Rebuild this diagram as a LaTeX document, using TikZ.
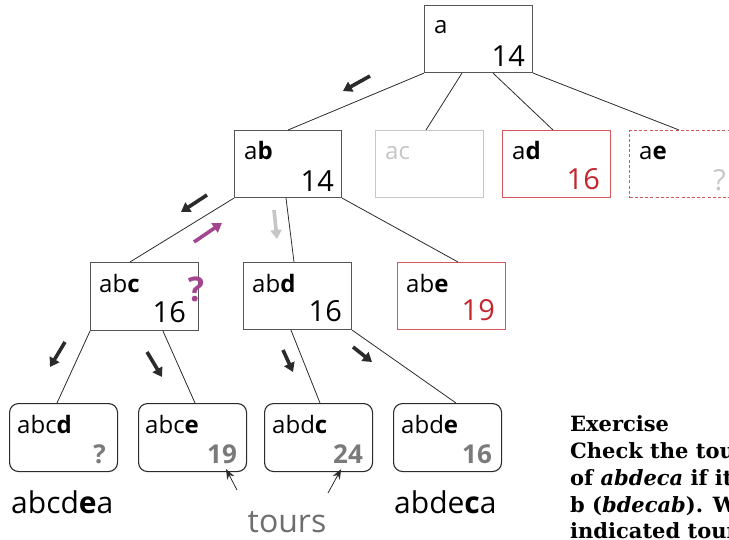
\documentclass[tikz,border=0pt]{standalone}
\usepackage{fontspec}
\setmainfont{Open Sans}
\newfontfamily\exfont{DejaVu Serif}
\usetikzlibrary{arrows.meta}

\definecolor{boxgrey}{HTML}{555555}
\definecolor{edgeink}{HTML}{2B2B2B}
\definecolor{deadgrey}{HTML}{C6C6C6}
\definecolor{cutred}{HTML}{C4262E}
\definecolor{cutredline}{HTML}{D4575C}
\definecolor{leafnum}{HTML}{7A7A7A}
\definecolor{toursgrey}{HTML}{6E6E6E}
\definecolor{backtrack}{HTML}{A3458F}

\tikzset{
  box/.style={draw=boxgrey, line width=1.1pt, minimum width=108pt, minimum height=67pt,
              inner sep=0pt, anchor=north west},
  leaf/.style={draw=edgeink, line width=1.1pt, rounded corners=9pt, minimum width=108pt,
               minimum height=68pt, inner sep=0pt, anchor=north west},
  edge/.style={draw=edgeink, line width=0.8pt},
  lbl/.style={anchor=base west, inner sep=0pt, font=\fontsize{24}{28}\selectfont},
  num/.style={anchor=base east, inner sep=0pt, font=\fontsize{29}{32}\selectfont},
  leafnumber/.style={anchor=base east, inner sep=0pt, text=leafnum,
                     font=\fontsize{26}{30}\selectfont\bfseries},
  tourword/.style={anchor=base west, inner sep=0pt, font=\fontsize{30}{34}\selectfont},
  walk/.style={line width=3.6pt, -{Triangle[width=11pt,length=9pt]}},
  pointer/.style={line width=0.8pt, draw=edgeink, -{Stealth[width=8pt,length=10pt]}},
  exline/.style={anchor=base west, inner sep=0pt, font=\exfont\bfseries\fontsize{21}{26}\selectfont},
}

\begin{document}
\begin{tikzpicture}[x=1pt,y=-1pt]
\useasboundingbox (0,0) rectangle (729,540);
\clip (0,0) rectangle (729,540);

% search-tree nodes, level 0 and 1
\node[box] (a)  at (424,5)   {};
\node[box, minimum width=107pt] (ab) at (234,130) {};
\node[box, draw=deadgrey] (ac) at (375,130) {};
\node[box, draw=cutredline] (ad) at (502,130) {};
\node[box, draw=cutredline, dash pattern=on 3pt off 2.2pt] (ae) at (629,130) {};

% level 2
\node[box, minimum height=68pt] (abc) at (90,262)  {};
\node[box] (abd) at (243,262) {};
\node[box, draw=cutredline] (abe) at (397,262) {};

% complete tours
\node[leaf] (abcd) at (9,403)   {};
\node[leaf] (abce) at (138,403) {};
\node[leaf] (abdc) at (264,403) {};
\node[leaf] (abde) at (393,403) {};

% tree edges
\draw[edge] (a.south west) -- (ab.north);
\draw[edge] ([xshift=38pt]a.south west) -- ([xshift=51pt]ac.north west);
\draw[edge] ([xshift=69pt]a.south west) -- ([xshift=51pt]ad.north west);
\draw[edge] (a.south east) -- ([xshift=50pt]ae.north west);
\draw[edge] (ab.south west) -- ([xshift=40pt]abc.north west);
\draw[edge] ([xshift=52pt]ab.south west) -- ([xshift=51pt]abd.north west);
\draw[edge] (ab.south east) -- ([xshift=61pt]abe.north west);
\draw[edge] (abc.south west) -- ([xshift=48pt]abcd.north west);
\draw[edge] ([xshift=73pt]abc.south west) -- ([xshift=57pt]abce.north west);
\draw[edge] ([xshift=48pt]abd.south west) -- ([xshift=56pt]abdc.north west);
\draw[edge] (abd.south east) -- ([xshift=63pt]abde.north west);

% partial tours and their bounds
\node[lbl] (a-l)  at ([shift={(10,29)}]a.north west)  {a};
\node[num] (a-n)  at ([shift={(-8,-7)}]a.south east)  {14};
\node[lbl] (ab-l) at ([shift={(10,30)}]ab.north west) {a\textbf{b}};
\node[num] (ab-n) at ([shift={(-8,-7)}]ab.south east) {14};
\node[lbl, text=deadgrey] (ac-l) at ([shift={(10,30)}]ac.north west) {ac};
\node[lbl] (ad-l) at ([shift={(10,30)}]ad.north west) {a\textbf{d}};
\node[num, text=cutred] (ad-n) at ([shift={(-11,-9)}]ad.south east) {16};
\node[lbl] (ae-l) at ([shift={(10,30)}]ae.north west) {a\textbf{e}};
\node[num, text=deadgrey] (ae-n) at ([shift={(-12,-8)}]ae.south east) {?};

\node[lbl] (abc-l) at ([shift={(9,31)}]abc.north west) {ab\textbf{c}};
\node[num] (abc-n) at ([shift={(-13,-9)}]abc.south east) {16};
\node[lbl] (abd-l) at ([shift={(9,31)}]abd.north west) {ab\textbf{d}};
\node[num] (abd-n) at ([shift={(-10,-9)}]abd.south east) {16};
\node[lbl] (abe-l) at ([shift={(9,31)}]abe.north west) {ab\textbf{e}};
\node[num, text=cutred] (abe-n) at ([shift={(-11,-10)}]abe.south east) {19};

\node[lbl] (abcd-l) at ([shift={(8,30)}]abcd.north west) {abc\textbf{d}};
\node[leafnumber] (abcd-n) at ([shift={(-12,-9)}]abcd.south east) {?};
\node[lbl] (abce-l) at ([shift={(7,30)}]abce.north west) {abc\textbf{e}};
\node[leafnumber] (abce-n) at ([shift={(-10,-9)}]abce.south east) {19};
\node[lbl] (abdc-l) at ([shift={(8,30)}]abdc.north west) {abd\textbf{c}};
\node[leafnumber] (abdc-n) at ([shift={(-10,-9)}]abdc.south east) {24};
\node[lbl] (abde-l) at ([shift={(8,30)}]abde.north west) {abd\textbf{e}};
\node[leafnumber] (abde-n) at ([shift={(-10,-9)}]abde.south east) {16};

% backtracking mark
\node[text=backtrack, inner sep=0pt, font=\fontsize{34}{36}\selectfont\bfseries] (bt) at (196,289) {?};

% direction of the depth-first walk
\draw[walk, edgeink] (370,76) -- (343,91);
\draw[walk, edgeink] (207,195) -- (181,212);
\draw[walk, backtrack] (194,242) -- (222,223);
\draw[walk, deadgrey] (274,210) -- (277,239);
\draw[walk, edgeink] (65,342) -- (50,367);
\draw[walk, edgeink] (147,352) -- (162,377);
\draw[walk, edgeink] (283,350) -- (293,372);
\draw[walk, edgeink] (353,347) -- (372,362);

% tour names and captions
\node[tourword] (t1) at (11,513)  {abcd\textbf{e}a};
\node[tourword] (t2) at (394,513) {abde\textbf{c}a};
\node[anchor=base, inner sep=0pt, text=toursgrey, font=\fontsize{32}{36}\selectfont] (tours) at (287,532) {tours};

\coordinate (p1) at (237,490);
\coordinate (p2) at (328,493);
\draw[pointer] (p1) -- ([shift={(-21,-3)}]abce.south east);
\draw[pointer] (p2) -- ([shift={(-32,-3)}]abdc.south east);

% exercise text, one node per line
\node[exline] (ex1) at (570,431) {Exercise};
\node[exline] (ex2) at (570,458) {Check the tour};
\node[exline] (ex3) at (570,485) {of \textit{abdeca} if it s};
\node[exline] (ex4) at (570,512) {b (\textit{bdecab}). Wr};
\node[exline] (ex5) at (570,538) {indicated tours};
\end{tikzpicture}
\end{document}
